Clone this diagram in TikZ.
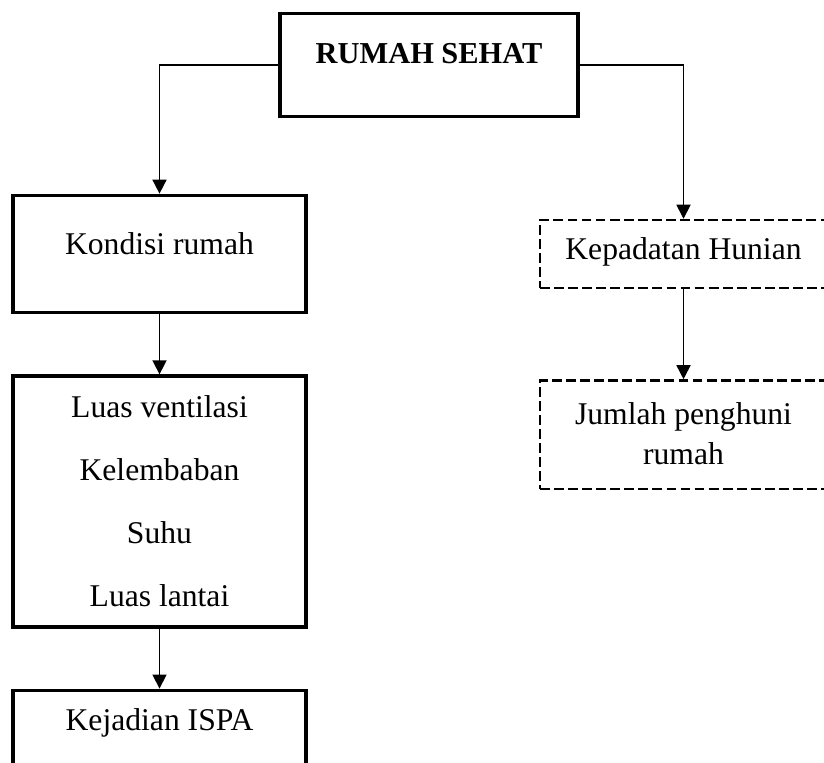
\documentclass[tikz,border=0pt]{standalone}
\usepackage{fontspec}
\setmainfont{Liberation Serif}
\usepackage{tikz}
\usetikzlibrary{positioning,arrows.meta}
\def\BoxWidth{5.86cm}
\def\DashWidth{5.74cm}
\def\BoxGap{1.2cm}

\begin{document}
\begin{tikzpicture}[x=0.02cm,y=-0.02cm,
	solidbox/.style={draw,line width=1.8pt,inner sep=0pt,minimum width=\BoxWidth,align=center,
		font=\fontsize{18}{22.4}\selectfont},
	dashbox/.style={solidbox,line width=1.5pt,dash pattern=on 5.6pt off 2.4pt,minimum width=\DashWidth},
	link/.style={line width=0.9pt,-{Triangle[width=8pt,length=8pt]}}]
	\useasboundingbox (0,0) rectangle (824,762);
	% 
	\node[solidbox,minimum width=5.96cm,text height=28.6pt,text depth=30.3pt,
		font=\fontsize{17.3}{21}\selectfont\bfseries] (sehat) at (429,65) {RUMAH SEHAT};
	% 
	\node[solidbox,text height=33.5pt,text depth=33.4pt] (kondisi) at (159.5,254) {Kondisi rumah};
	\node[solidbox,below=\BoxGap of kondisi,text height=131pt,text depth=11.9pt,
		font=\fontsize{18}{35.7}\selectfont] (luas) {Luas ventilasi\\Kelembaban\\Suhu\\Luas lantai};
	\node[solidbox,below=\BoxGap of luas,text height=22.7pt,text depth=45.4pt] (ispa) {Kejadian ISPA};
	% 
	\node[dashbox,text height=22.7pt,text depth=15.9pt] (kepadatan) at (683.5,254) {Kepadatan Hunian};
	\node[dashbox,below=1.8cm of kepadatan,text height=47.6pt,text depth=14.2pt,
		font=\fontsize{18}{22.7}\selectfont] (penghuni) {Jumlah penghuni\\rumah};
	% 
	\draw[link] (sehat.west) -| (kondisi.north);
	\draw[link] (sehat.east) -| (kepadatan.north);
	\draw[link] (kondisi) -- (luas);
	\draw[link] (luas) -- (ispa);
	\draw[link] (kepadatan) -- (penghuni);
\end{tikzpicture}
\end{document}
